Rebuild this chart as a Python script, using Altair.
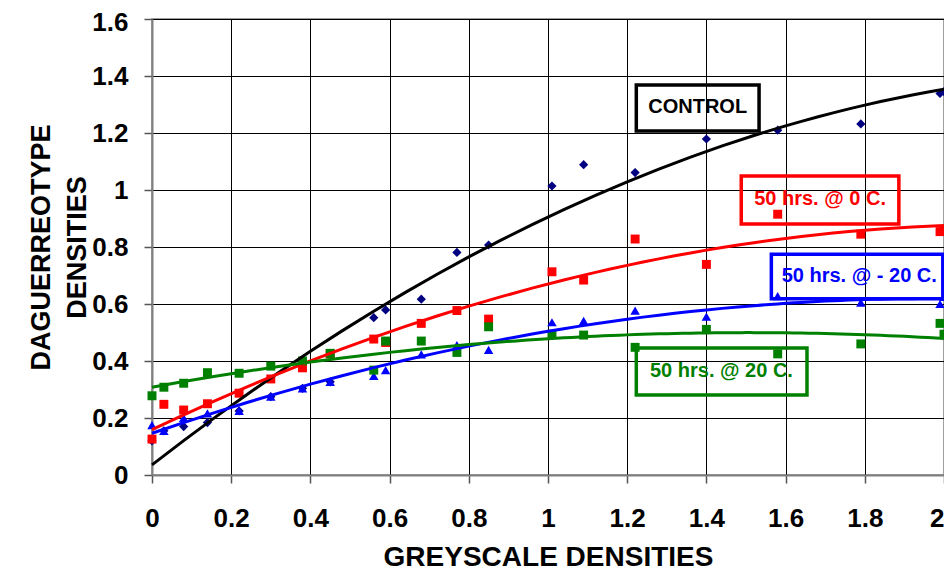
import altair as alt
import pandas as pd

# ---- data ----
x_vals = [0.0, 0.03, 0.08, 0.14, 0.22, 0.30, 0.38, 0.45, 0.56, 0.59, 0.68,
          0.77, 0.85, 1.01, 1.09, 1.22, 1.40, 1.58, 1.79, 1.99, 2.0]
# first points of CONTROL are hidden behind the other markers (estimated)
control = [0.12, 0.155, 0.17, 0.184, 0.225, 0.275, 0.304, 0.327, 0.552, 0.579, 0.617,
           0.781, 0.807, 1.014, 1.089, 1.061, 1.179, 1.21, 1.232, 1.339, 1.345]
zero_c = [0.126, 0.248, 0.228, 0.25, 0.287, 0.337, 0.376, 0.425, 0.477, 0.465, 0.532,
          0.577, 0.547, 0.713, 0.684, 0.828, 0.739, 0.915, 0.845, 0.854, 0.856]
minus20 = [0.175, 0.155, 0.20, 0.216, 0.225, 0.275, 0.304, 0.327, 0.348, 0.368, 0.423,
           0.456, 0.439, 0.536, 0.541, 0.577, 0.556, 0.628, 0.605, 0.60, 0.625]
plus20 = [0.278, 0.308, 0.322, 0.359, 0.357, 0.382, 0.40, 0.427, 0.368, 0.47, 0.47,
          0.43, 0.52, 0.494, 0.491, 0.448, 0.511, 0.425, 0.46, 0.532, 0.494]

x_ticks = [0, 0.2, 0.4, 0.6, 0.8, 1, 1.2, 1.4, 1.6, 1.8, 2]
y_ticks = [0, 0.2, 0.4, 0.6, 0.8, 1, 1.2, 1.4, 1.6]

label_texts = ["CONTROL", "50 hrs. @ 0 C.", "50 hrs. @ - 20 C.", "50 hrs. @ 20 C."]

rows = []
for name, ys in [("control", control), ("zero", zero_c), ("minus20", minus20), ("plus20", plus20)]:
    for xv, yv in zip(x_vals, ys):
        rows.append({"x": xv, "y": yv, "series": name})
df = pd.DataFrame(rows)

FONT = "Liberation Sans, Arial, Helvetica, sans-serif"

x_axis = alt.Axis(values=x_ticks, format=".2~f", title="GREYSCALE DENSITIES",
                  labelFont=FONT, labelFontSize=26, labelFontWeight="bold", labelColor="black",
                  labelPadding=22, tickSize=8, tickColor="#555555", tickWidth=1.5,
                  domainColor="#808080", domainWidth=2,
                  grid=True, gridColor="#000000", gridWidth=1,
                  titleFont=FONT, titleFontSize=28, titleFontWeight="bold", titleColor="black",
                  titleY=82, titleBaseline="middle", labelFlush=False,
                  labelAlign=alt.ExprRef(expr="datum.value >= 2 ? 'right' : 'center'"))
y_axis = alt.Axis(values=y_ticks, format=".2~f", title=["DAGUERREOTYPE", "DENSITIES"],
                  labelFont=FONT, labelFontSize=26, labelFontWeight="bold", labelColor="black",
                  labelPadding=16, tickSize=8, tickColor="#555555", tickWidth=1.5,
                  domainColor="#808080", domainWidth=2,
                  grid=True, gridColor="#000000", gridWidth=1,
                  titleFont=FONT, titleFontSize=27, titleFontWeight="bold", titleColor="black",
                  titleAngle=270, titleX=-111, titleY=228, titleAlign="center",
                  titleBaseline="middle", titleLineHeight=36, labelFlush=False,
                  labelOffset=alt.ExprRef(expr="datum.value >= 1.6 ? 3 : 0"))

XS = alt.Scale(domain=[0, 2], nice=False, zero=False)
YS = alt.Scale(domain=[0, 1.6], nice=False)
X = alt.X("x:Q", scale=XS, axis=x_axis)
Y = alt.Y("y:Q", scale=YS, axis=y_axis)

base = alt.Chart(df)

styles = {
    "control": dict(shape="diamond", pt="#000080", ln="#000000", size=85),
    "zero": dict(shape="square", pt="#FF0000", ln="#FF0000", size=80),
    "minus20": dict(shape="triangle-up", pt="#0000FF", ln="#0000FF", size=90),
    "plus20": dict(shape="square", pt="#008000", ln="#008000", size=80),
}
order = ["control", "zero", "minus20", "plus20"]

point_layers = []
line_layers = []
for s in order:
    st = styles[s]
    sub = base.transform_filter(alt.datum.series == s)
    point_layers.append(
        sub.mark_point(shape=st["shape"], filled=True, size=st["size"], opacity=1,
                       color=st["pt"]).encode(x=X, y=Y)
    )
    line_layers.append(
        sub.transform_regression("x", "y", method="poly", order=2, extent=[0, 2])
        .mark_line(color=st["ln"], strokeWidth=3).encode(x=X, y=Y)
    )

# annotation boxes (data units)
boxes = [
    dict(x=1.223, x2=1.533, y=1.368, y2=1.207, tx=1.378, ty=1.29, text=label_texts[0], c="#000000"),
    dict(x=1.488, x2=1.886, y=1.049, y2=0.881, tx=1.687, ty=0.967, text=label_texts[1], c="#FF0000"),
    dict(x=1.564, x2=1.997, y=0.775, y2=0.618, tx=1.786, ty=0.698, text=label_texts[2], c="#0000FF"),
    dict(x=1.223, x2=1.654, y=0.446, y2=0.281, tx=1.438, ty=0.365, text=label_texts[3], c="#008000"),
]
ann_layers = []
for b in boxes:
    bd = pd.DataFrame([b])
    ann_layers.append(
        alt.Chart(bd).mark_rect(fill=None, stroke=b["c"], strokeWidth=3.5, filled=False).encode(
            x=alt.X("x:Q", scale=XS, axis=x_axis), x2="x2:Q",
            y=alt.Y("y:Q", scale=YS, axis=y_axis), y2="y2:Q",
        )
    )
    ann_layers.append(
        alt.Chart(bd).mark_text(font=FONT, fontSize=20, fontWeight="bold", color=b["c"],
                                align="center", baseline="middle").encode(
            x=alt.X("tx:Q", scale=XS, axis=x_axis),
            y=alt.Y("ty:Q", scale=YS, axis=y_axis),
            text="text:N",
        )
    )

chart = alt.layer(*point_layers, *line_layers, *ann_layers).properties(
    width=792, height=456,
    autosize=alt.AutoSizeParams(type="none"),
    padding={"left": 144, "top": 11, "right": 0, "bottom": 96},
    background="white",
).configure_view(stroke="#808080", strokeWidth=1.5)

chart.save("out.html", embed_options={"renderer": "svg", "actions": False})
